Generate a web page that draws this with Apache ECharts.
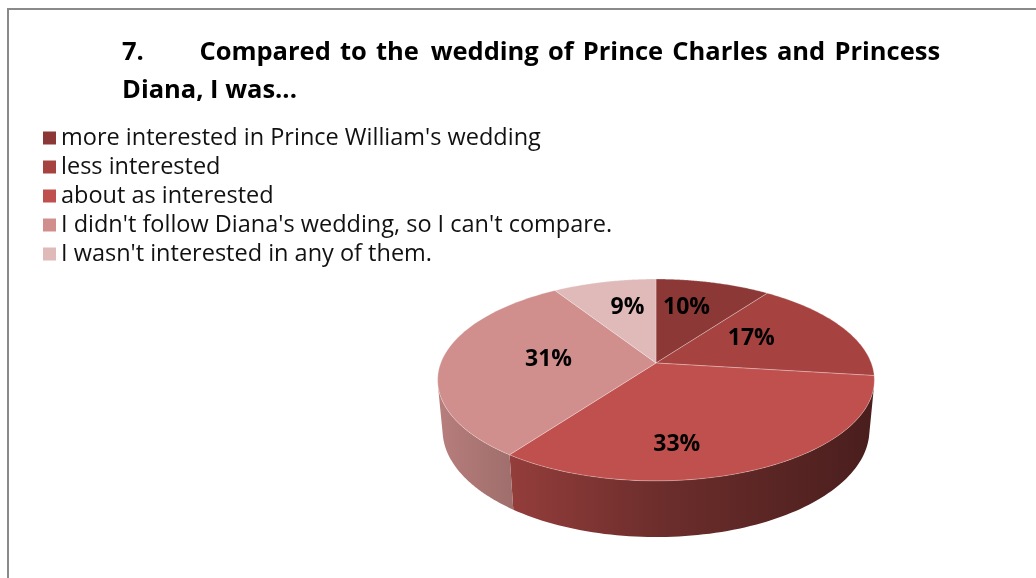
<!DOCTYPE html>
<html>
<head>
<meta charset="utf-8">
<script src="https://cdn.jsdelivr.net/npm/echarts@6/dist/echarts.min.js"></script>
<style>
html,body{margin:0;padding:0;background:#fff;}
#chart{width:1036px;height:578px;}
</style>
</head>
<body>
<div id="chart"></div>
<script>
// ---- data ----
const titleNumber = "7.";
const titleLine1Words = ["Compared", "to", "the", "wedding", "of", "Prince", "Charles", "and", "Princess"];
const titleLine2 = "Diana, I was...";
const categories = [
  "more interested in Prince William's wedding",
  "less interested",
  "about as interested",
  "I didn't follow Diana's wedding, so I can't compare.",
  "I wasn't interested in any of them."
];
const values = [10, 17, 33, 31, 9];
const colors = ['#8C3836', '#A64340', '#C0504D', '#D08F8D', '#DFBAB9'];

// ---- title justification (layout) ----
const TITLE_SIZE = 25.5;
const mctx = document.createElement('canvas').getContext('2d');
mctx.font = 'bold ' + TITLE_SIZE + 'px "Open Sans"';
const spW = mctx.measureText('\u00a0').width;
const hairW = mctx.measureText('\u200a').width || 1;
const line1Start = 122, wordsStart = 200, line1End = 940;
function fill(px) {
  const n = Math.max(0, Math.floor(px / spW));
  const h = Math.max(0, Math.round((px - n * spW) / hairW));
  return { s: '\u00a0'.repeat(n) + '\u200a'.repeat(h), w: n * spW + h * hairW };
}
function buildLine1() {
  let s = titleNumber;
  let pos = line1Start + mctx.measureText(titleNumber).width;
  let f = fill(wordsStart - pos);
  s += f.s; pos += f.w;
  const wordsW = titleLine1Words.reduce((a, w) => a + mctx.measureText(w).width, 0);
  const gap = (line1End - wordsStart - wordsW) / (titleLine1Words.length - 1);
  let target = wordsStart;
  titleLine1Words.forEach((w, k) => {
    if (k > 0) {
      target += gap;
      f = fill(target - pos);
      s += f.s; pos += f.w;
    }
    const ww = mctx.measureText(w).width;
    s += w; pos += ww; target += ww;
  });
  return s;
}
const titleText = buildLine1() + '\n' + titleLine2;

// ---- layout / projection (style, not data) ----
const CX = 656, CY = 363;
const PHI = 27.1 * Math.PI / 180, DIST = 5.30, FOC = 1141, DEPTH = 0.2646;
function proj(X, Y, Z) {
  const d = DIST + Y * Math.cos(PHI) - Z * Math.sin(PHI);
  return [CX + FOC * X / d, CY - FOC * (Y * Math.sin(PHI) + Z * Math.cos(PHI)) / d];
}
function shade(hex, f) {
  const n = parseInt(hex.slice(1), 16);
  const r = Math.round(((n >> 16) & 255) * f), g = Math.round(((n >> 8) & 255) * f), b = Math.round((n & 255) * f);
  return 'rgb(' + r + ',' + g + ',' + b + ')';
}
const total = values.reduce((a, b) => a + b, 0);
const visA0 = Math.acos(-1 / (DIST * Math.cos(PHI)));
const visA1 = 2 * Math.PI - visA0;
const left = proj(-1, 0, 0)[0] - 3, right = proj(1, 0, 0)[0] + 3;

function renderItem(params, api) {
  const i = params.dataIndex;
  let before = 0;
  for (let k = 0; k < i; k++) before += values[k];
  const a0 = before / total * 2 * Math.PI;
  const a1 = (before + api.value(0)) / total * 2 * Math.PI;
  const children = [];
  const N = 80;
  const top = [[CX, CY]];
  for (let s = 0; s <= N; s++) {
    const a = a0 + (a1 - a0) * s / N;
    top.push(proj(Math.sin(a), Math.cos(a), 0));
  }
  children.push({
    type: 'polygon', z2: 5,
    shape: { points: top },
    style: { fill: colors[i], stroke: 'rgba(255,255,255,0.35)', lineWidth: 0.8 }
  });
  const w0 = Math.max(a0, visA0), w1 = Math.min(a1, visA1);
  if (w1 > w0) {
    const up = [], down = [];
    for (let s = 0; s <= N; s++) {
      const a = w0 + (w1 - w0) * s / N;
      up.push(proj(Math.sin(a), Math.cos(a), 0));
      down.push(proj(Math.sin(a), Math.cos(a), -DEPTH));
    }
    children.push({
      type: 'polygon', z2: 1,
      shape: { points: up.concat(down.reverse()) },
      style: {
        fill: new echarts.graphic.LinearGradient(left, 0, right, 0, [
          { offset: 0, color: shade(colors[i], 0.88) },
          { offset: 0.15, color: shade(colors[i], 0.78) },
          { offset: 0.5, color: shade(colors[i], 0.57) },
          { offset: 1, color: shade(colors[i], 0.38) }
        ], true)
      }
    });
  }
  const sinP = Math.sin(PHI);
  const m0 = Math.atan2(Math.sin(a0), sinP * Math.cos(a0));
  const m1 = Math.atan2(Math.sin(a1), sinP * Math.cos(a1));
  let mm0 = m0 < 0 ? m0 + 2 * Math.PI : m0;
  const mm1 = m1 <= 0 ? m1 + 2 * Math.PI : m1;
  if (i === 0) mm0 = 0;
  const m = (mm0 + mm1) / 2;
  const am = Math.atan2(Math.sin(m), Math.cos(m) / sinP);
  const rim = proj(Math.sin(am), Math.cos(am), 0);
  const t = 0.5 + 0.2 * Math.abs(Math.cos(m));
  children.push({
    type: 'text', z2: 10,
    style: {
      text: Math.round(api.value(0) / total * 100) + '%',
      x: CX + t * (rim[0] - CX), y: CY + t * (rim[1] - CY),
      align: 'center', verticalAlign: 'middle',
      fill: '#000', font: 'bold 23px "Open Sans"'
    }
  });
  return { type: 'group', children: children };
}

const chart = echarts.init(document.getElementById('chart'), null, { renderer: 'canvas' });
chart.setOption({
  animation: false,
  title: {
    text: titleText,
    left: line1Start, top: 34, padding: 0,
    textStyle: { fontFamily: 'Open Sans', fontWeight: 'bold', fontSize: TITLE_SIZE, lineHeight: 38, color: '#000' }
  },
  legend: {
    orient: 'vertical', left: 38, top: 121, padding: 5,
    icon: 'rect', itemWidth: 13, itemHeight: 13, itemGap: 5,
    textStyle: { fontFamily: 'Open Sans', fontSize: 23.5, lineHeight: 24, color: '#111' },
    data: categories
  },
  graphic: [{
    type: 'rect', silent: true, z: -1,
    shape: { x: 8, y: 9, width: 1200, height: 800 },
    style: { fill: 'none', stroke: '#8a8a8a', lineWidth: 2 }
  }],
  series: [
    {
      type: 'pie', radius: [0, 0], silent: true, label: { show: false },
      data: categories.map((c, i) => ({ name: c, value: values[i], itemStyle: { color: colors[i] } }))
    },
    {
      type: 'custom', coordinateSystem: 'none', silent: true,
      renderItem: renderItem,
      data: values.map((v, i) => ({ name: categories[i], value: [v] }))
    }
  ]
});
</script>
</body>
</html>
